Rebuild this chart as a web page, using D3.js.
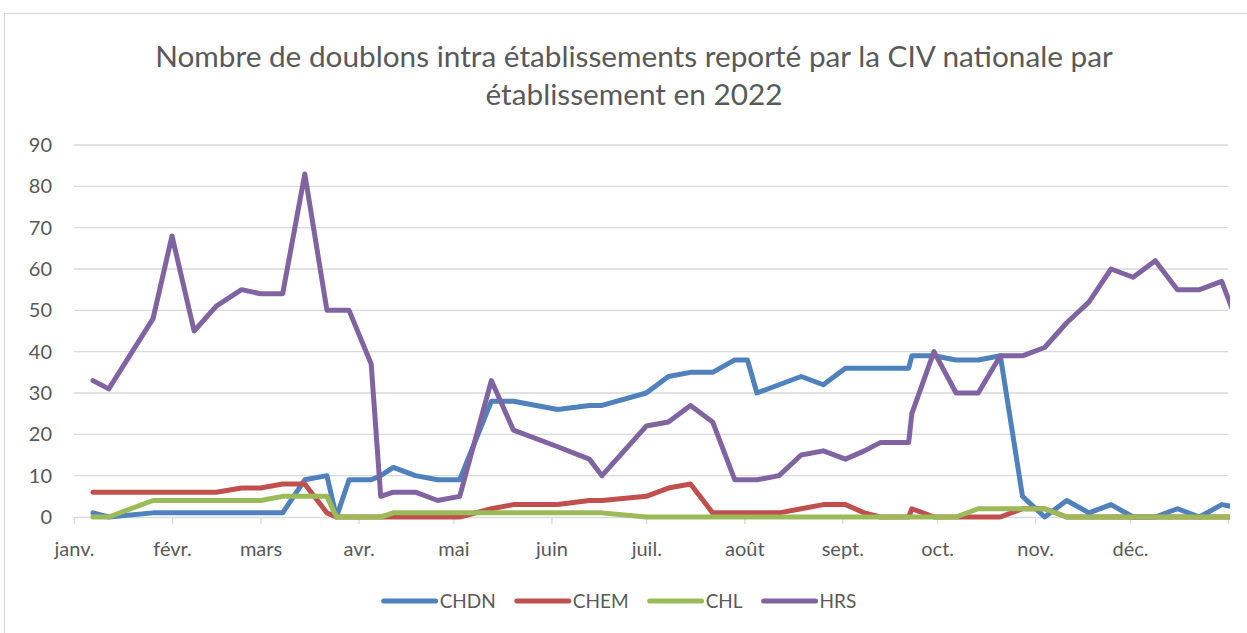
<!DOCTYPE html>
<html>
<head>
<meta charset="utf-8">
<script src="https://cdn.jsdelivr.net/npm/d3@7"></script>
<style>
  body { margin: 0; background: #fff; }
  svg { display: block; font-family: Lato, "Open Sans", sans-serif; }
</style>
</head>
<body>
<script>
// report dates
const dates = [
  '2022-01-07', '2022-01-12', '2022-01-26', '2022-02-01', '2022-02-08', '2022-02-15',
  '2022-02-23', '2022-03-01', '2022-03-08', '2022-03-15', '2022-03-22', '2022-03-25',
  '2022-03-29', '2022-04-05', '2022-04-08', '2022-04-12', '2022-04-19', '2022-04-26',
  '2022-05-03', '2022-05-13', '2022-05-20', '2022-06-03', '2022-06-13', '2022-06-17',
  '2022-07-01', '2022-07-08', '2022-07-15', '2022-07-22', '2022-07-29', '2022-08-02',
  '2022-08-05', '2022-08-12', '2022-08-19', '2022-08-26', '2022-09-02', '2022-09-08',
  '2022-09-13', '2022-09-22', '2022-09-23', '2022-09-30', '2022-10-07', '2022-10-14',
  '2022-10-21', '2022-10-28', '2022-11-04', '2022-11-11', '2022-11-18', '2022-11-25',
  '2022-12-02', '2022-12-09', '2022-12-16', '2022-12-23', '2022-12-30', '2023-01-06',
];

const chdn = [
  1, 0, 1, 1, 1, 1, 1, 1, 1, 9, 10, 0, 9, 9, 10, 12, 10, 9,
  9, 28, 28, 26, 27, 27, 30, 34, 35, 35, 38, 38, 30, 32, 34, 32, 36, 36,
  36, 36, 39, 39, 38, 38, 39, 5, 0, 4, 1, 3, 0, 0, 2, 0, 3, 2,
];
const chem = [
  6, 6, 6, 6, 6, 6, 7, 7, 8, 8, 1, 0, 0, 0, 0, 0, 0, 0,
  0, 2, 3, 3, 4, 4, 5, 7, 8, 1, 1, 1, 1, 1, 2, 3, 3, 1,
  0, 0, 2, 0, 0, 0, 0, 2, 2, 0, 0, 0, 0, 0, 0, 0, 0, 0,
];
const chl = [
  0, 0, 4, 4, 4, 4, 4, 4, 5, 5, 5, 0, 0, 0, 0, 1, 1, 1,
  1, 1, 1, 1, 1, 1, 0, 0, 0, 0, 0, 0, 0, 0, 0, 0, 0, 0,
  0, 0, 0, 0, 0, 2, 2, 2, 2, 0, 0, 0, 0, 0, 0, 0, 0, 0,
];
const hrs = [
  33, 31, 48, 68, 45, 51, 55, 54, 54, 83, 50, 50, 50, 37, 5, 6, 6, 4,
  5, 33, 21, 17, 14, 10, 22, 23, 27, 23, 9, 9, 9, 10, 15, 16, 14, 16,
  18, 18, 25, 40, 30, 30, 39, 39, 41, 47, 52, 60, 58, 62, 55, 55, 57, 43,
];

const seriesNames = ['CHDN', 'CHEM', 'CHL', 'HRS'];
const seriesValues = [chdn, chem, chl, hrs];
const seriesColors = ['#4f81bd', '#c0504d', '#9bbb59', '#8064a2'];

const monthLabels = ['janv.', 'févr.', 'mars', 'avr.', 'mai', 'juin',
  'juil.', 'août', 'sept.', 'oct.', 'nov.', 'déc.'];
const yTickValues = [0, 10, 20, 30, 40, 50, 60, 70, 80, 90];

const titleLines = [
  'Nombre de doublons intra établissements reporté par la CIV nationale par',
  'établissement en 2022',
];

const width = 1247;
const height = 633;
const textColor = '#595959';
const gridColor = '#d9d9d9';
const fontFamily = 'Lato, "Open Sans", sans-serif';

const svg = d3.select('body')
  .append('svg')
  .attr('width', width)
  .attr('height', height);

// chart frame (right and bottom edges run off the picture)
svg.append('rect')
  .attr('x', 4.5)
  .attr('y', 13.5)
  .attr('width', 1260)
  .attr('height', 640)
  .attr('fill', '#fff')
  .attr('stroke', gridColor)
  .attr('stroke-width', 1.3);

const parse = d3.timeParse('%Y-%m-%d');
const x = d3.scaleTime()
  .domain([new Date(2022, 0, 1), new Date(2023, 0, 1)])
  .range([74, 1228]);
const y = d3.scaleLinear()
  .domain([0, 90])
  .range([517, 145]);

// title
const title = svg.append('g')
  .attr('fill', textColor)
  .attr('text-anchor', 'middle')
  .style('font-size', '25px');
title.selectAll('text')
  .data(titleLines)
  .join('text')
  .attr('x', 634)
  .attr('y', (d, i) => 67 + i * 38)
  .text((d) => d);

// fit first title line to the reference width
const t0 = title.select('text').node();
const fitted = 25 * 958 / t0.getComputedTextLength();
title.style('font-size', `${fitted}px`);

// horizontal grid
svg.append('g')
  .selectAll('line')
  .data(yTickValues.filter((d) => d > 0))
  .join('line')
  .attr('x1', x.range()[0])
  .attr('x2', x.range()[1])
  .attr('y1', (d) => y(d))
  .attr('y2', (d) => y(d))
  .attr('stroke', gridColor)
  .attr('stroke-width', 1.3);

// y labels
const yAxis = svg.append('g')
  .attr('transform', `translate(${x.range()[0]},0)`)
  .call(d3.axisLeft(y).tickValues(yTickValues).tickSize(0).tickPadding(22));
yAxis.select('.domain').remove();
yAxis.selectAll('text')
  .attr('fill', textColor)
  .style('font-size', '20px')
  .style('font-family', fontFamily);

// x axis
const monthTicks = d3.timeMonth.range(new Date(2022, 0, 1), new Date(2023, 0, 2));
const xAxis = svg.append('g')
  .attr('transform', `translate(0,${y(0)})`)
  .call(d3.axisBottom(x)
    .tickValues(monthTicks)
    .tickSize(7)
    .tickFormat((d, i) => monthLabels[i] || ''));
xAxis.select('.domain')
  .attr('stroke', gridColor)
  .attr('stroke-width', 1.3);
xAxis.selectAll('.tick line')
  .attr('stroke', gridColor)
  .attr('stroke-width', 1.3);
xAxis.selectAll('text')
  .attr('fill', textColor)
  .attr('y', 25)
  .style('font-size', '20px')
  .style('font-family', fontFamily);

// lines
svg.append('defs')
  .append('clipPath')
  .attr('id', 'plot-clip')
  .append('rect')
  .attr('x', 0)
  .attr('y', 0)
  .attr('width', x.range()[1] + 2)
  .attr('height', height);

const line = d3.line()
  .x((d) => x(d.date))
  .y((d) => y(d.value));

const series = seriesNames.map((name, i) => ({
  name,
  color: seriesColors[i],
  points: dates.map((d, j) => ({ date: parse(d), value: seriesValues[i][j] })),
}));

svg.append('g')
  .attr('clip-path', 'url(#plot-clip)')
  .selectAll('path')
  .data(series)
  .join('path')
  .attr('d', (d) => line(d.points))
  .attr('fill', 'none')
  .attr('stroke', (d) => d.color)
  .attr('stroke-width', 5)
  .attr('stroke-linejoin', 'round')
  .attr('stroke-linecap', 'round');

// legend
const legend = svg.append('g')
  .attr('transform', 'translate(0,601)')
  .style('font-size', '19px');
const items = legend.selectAll('g')
  .data(series)
  .join('g');
items.append('line')
  .attr('x1', 0)
  .attr('x2', 52)
  .attr('stroke', (d) => d.color)
  .attr('stroke-width', 5)
  .attr('stroke-linecap', 'round');
items.append('text')
  .attr('x', 56)
  .attr('dy', '0.35em')
  .attr('fill', textColor)
  .text((d) => d.name);

const widths = [];
items.each(function () {
  widths.push(56 + d3.select(this).select('text').node().getComputedTextLength());
});
const gap = 21;
const total = d3.sum(widths) + gap * (widths.length - 1);
let offset = 620 - total / 2;
items.attr('transform', (d, i) => {
  const tx = offset;
  offset += widths[i] + gap;
  return `translate(${tx},0)`;
});
</script>
</body>
</html>
